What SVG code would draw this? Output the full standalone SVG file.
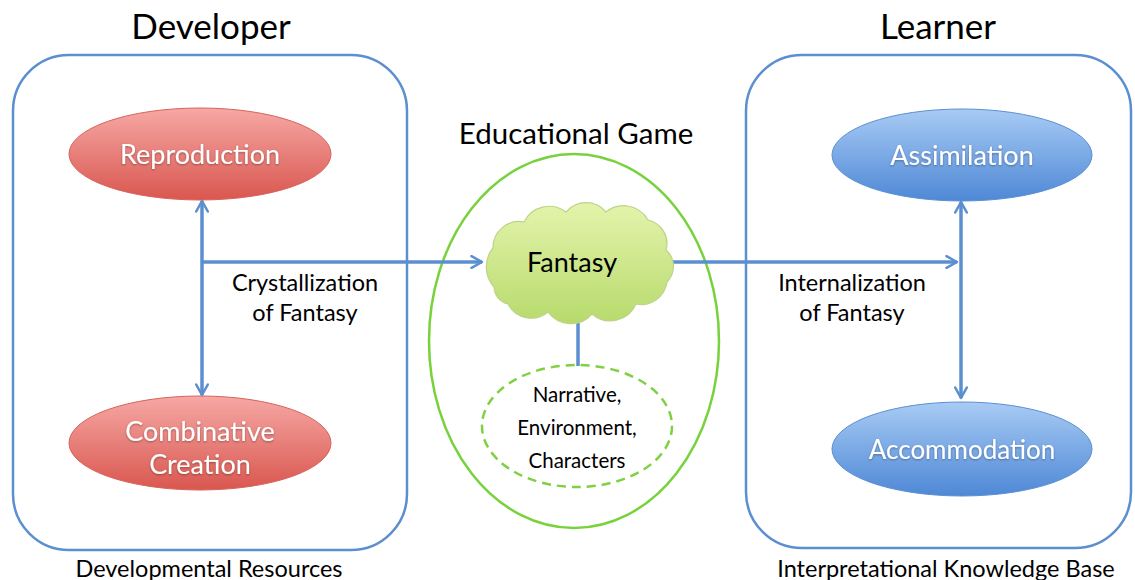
<svg xmlns="http://www.w3.org/2000/svg" width="1135" height="580" viewBox="0 0 1135 580">
  <style>
    text { font-family: Lato, "Open Sans", "Liberation Sans", sans-serif; text-anchor: middle; }
    .title { font-size: 35px; fill: #000; }
    .sub { font-size: 23.5px; fill: #000; }
    .lbl { font-size: 23.5px; fill: #000; }
    .node { font-size: 27px; fill: #fff; }
    .small { font-size: 20.5px; fill: #000; }
    .box { fill: none; stroke: #5b8fcf; stroke-width: 2.5; }
    .conn { fill: none; stroke: #5b8fcf; stroke-width: 3.5; }
  </style>
  <defs>
    <linearGradient id="gRed" x1="0" y1="0" x2="0" y2="1">
      <stop offset="0" stop-color="#f6a8a5"/>
      <stop offset="1" stop-color="#d9574f"/>
    </linearGradient>
    <linearGradient id="gBlue" x1="0" y1="0" x2="0" y2="1">
      <stop offset="0" stop-color="#a8cbf4"/>
      <stop offset="1" stop-color="#4e88d6"/>
    </linearGradient>
    <linearGradient id="gCloud" x1="0" y1="0" x2="0" y2="1">
      <stop offset="0" stop-color="#e4f4ac"/>
      <stop offset="1" stop-color="#b7da6c"/>
    </linearGradient>
    <filter id="shadow" x="-10%" y="-10%" width="120%" height="130%">
      <feDropShadow dx="0" dy="1" stdDeviation="0.8" flood-color="#000" flood-opacity="0.35"/>
    </filter>
    <marker id="arrow" viewBox="0 0 12 12" refX="10" refY="6" markerWidth="14" markerHeight="14" markerUnits="userSpaceOnUse" orient="auto-start-reverse">
      <path d="M1,1 L10,6 L1,11" fill="none" stroke="#5b8fcf" stroke-width="2.2" stroke-linecap="round" stroke-linejoin="round"/>
    </marker>
  </defs>

  <rect width="1135" height="580" fill="#fff"/>

  <!-- headings -->
  <text class="title" x="211" y="39">Developer</text>
  <text class="title" x="938" y="39">Learner</text>
  <text class="title" x="576" y="144" style="font-size:29.5px">Educational Game</text>
  <text class="sub" x="209" y="577">Developmental Resources</text>
  <text class="sub" x="946" y="577">Interpretational Knowledge Base</text>

  <!-- containers -->
  <g id="developer">
    <rect class="box" x="13" y="55" width="394" height="495" rx="56" ry="56"/>
  </g>
  <g id="learner">
    <rect class="box" x="746" y="55" width="385" height="493" rx="56" ry="56"/>
  </g>
  <g id="educational-game">
    <ellipse cx="574" cy="341" rx="145" ry="187" fill="none" stroke="#78d23c" stroke-width="2.5"/>
  </g>

  <!-- connectors -->
  <g id="connectors">
    <line class="conn" x1="202" y1="201" x2="202" y2="395" marker-start="url(#arrow)" marker-end="url(#arrow)"/>
    <line class="conn" x1="202" y1="262" x2="482" y2="262" marker-end="url(#arrow)"/>
    <line class="conn" x1="673" y1="262" x2="957" y2="262" marker-end="url(#arrow)"/>
    <line class="conn" x1="961" y1="202" x2="961" y2="398" marker-start="url(#arrow)" marker-end="url(#arrow)"/>
    <line class="conn" x1="578" y1="312" x2="578" y2="366"/>
  </g>

  <!-- connector labels -->
  <text class="lbl" x="305" y="291">Crystallization</text>
  <text class="lbl" x="305" y="321">of Fantasy</text>
  <text class="lbl" x="852" y="291">Internalization</text>
  <text class="lbl" x="852" y="321">of Fantasy</text>

  <!-- developer nodes -->
  <g id="reproduction">
    <ellipse cx="200" cy="154" rx="131" ry="46" fill="url(#gRed)" stroke="#d9625b" stroke-width="1"/>
    <text class="node" x="200" y="164" filter="url(#shadow)">Reproduction</text>
  </g>
  <g id="combinative-creation">
    <ellipse cx="200" cy="443" rx="131" ry="47" fill="url(#gRed)" stroke="#d9625b" stroke-width="1"/>
    <text class="node" x="200" y="441" filter="url(#shadow)">Combinative</text>
    <text class="node" x="200" y="474" filter="url(#shadow)">Creation</text>
  </g>

  <!-- learner nodes -->
  <g id="assimilation">
    <ellipse cx="962" cy="155" rx="130" ry="46" fill="url(#gBlue)" stroke="#5a8fd2" stroke-width="1"/>
    <text class="node" x="962" y="165" filter="url(#shadow)">Assimilation</text>
  </g>
  <g id="accommodation">
    <ellipse cx="962" cy="449" rx="130" ry="47" fill="url(#gBlue)" stroke="#5a8fd2" stroke-width="1"/>
    <text class="node" x="962" y="459" style="font-size:26px" filter="url(#shadow)">Accommodation</text>
  </g>

  <!-- game nodes -->
  <g id="fantasy">
    <path d="M494,287 A30 30 0 0 1 493,248 A26 26 0 0 1 524,222 A28 28 0 0 1 566,212 A26 26 0 0 1 606,212 A28 28 0 0 1 648,220 A24 24 0 0 1 666,250 A22 22 0 0 1 667,282 A26 26 0 0 1 636,304 A28 28 0 0 1 592,314 A28 28 0 0 1 548,312 A26 26 0 0 1 508,304 A18 18 0 0 1 494,287 Z" fill="url(#gCloud)" stroke="#bcd488" stroke-width="1.2"/>
    <text x="572" y="272" style="font-size:27px;fill:#000">Fantasy</text>
  </g>
  <g id="elements">
    <ellipse cx="577" cy="426" rx="95" ry="61" fill="none" stroke="#7fd043" stroke-width="2.5" stroke-dasharray="9 6"/>
    <text class="small" x="577" y="402">Narrative,</text>
    <text class="small" x="577" y="435">Environment,</text>
    <text class="small" x="577" y="468">Characters</text>
  </g>
</svg>
